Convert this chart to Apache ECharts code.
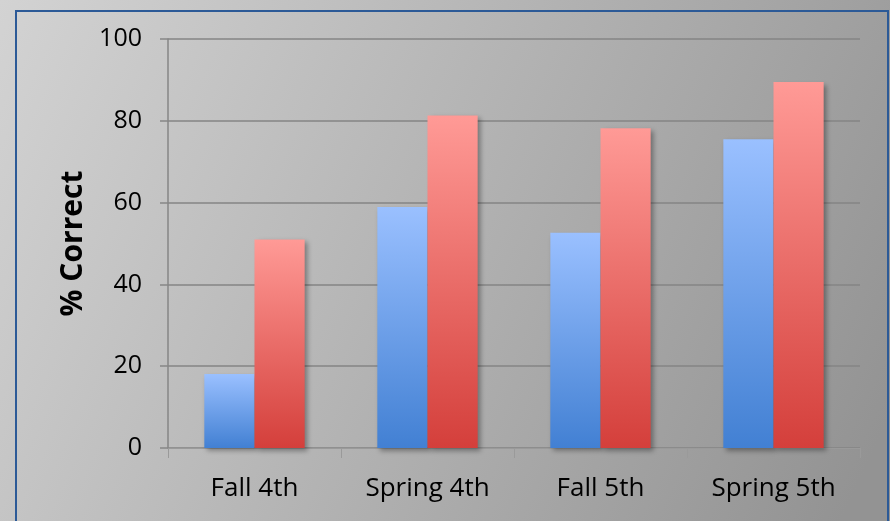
<!DOCTYPE html>
<html>
<head>
<meta charset="utf-8">
<style>
  html, body { margin: 0; padding: 0; }
  #chart { width: 890px; height: 521px; }
</style>
<script src="https://cdn.jsdelivr.net/npm/echarts@6/dist/echarts.min.js"></script>
</head>
<body>
<div id="chart"></div>
<script>
// Percent of correct answers per testing period
const categories = ['Fall 4th', 'Spring 4th', 'Fall 5th', 'Spring 5th'];
const seriesA = [18.1, 58.9, 52.6, 75.5];
const seriesB = [51.0, 81.3, 78.2, 89.5];
const yTicks = [0, 20, 40, 60, 80, 100];

const FONT = '"Open Sans", "Liberation Sans", sans-serif';

function vGrad(top, bottom) {
  return new echarts.graphic.LinearGradient(0, 0, 0, 1, [
    { offset: 0, color: top },
    { offset: 1, color: bottom }
  ]);
}

const barShadow = {
  shadowBlur: 5,
  shadowOffsetX: 3,
  shadowOffsetY: 3,
  shadowColor: 'rgba(0,0,0,0.35)'
};

const chart = echarts.init(document.getElementById('chart'), null, { renderer: 'canvas' });

chart.setOption({
  animation: false,
  backgroundColor: new echarts.graphic.LinearGradient(0, 0, 1, 0.8, [
    { offset: 0, color: '#d3d3d3' },
    { offset: 1, color: '#939393' }
  ]),
  graphic: [
    {
      type: 'rect',
      z: -1,
      shape: { x: 16, y: 11, width: 872, height: 520 },
      style: { fill: 'none', stroke: '#2c5a97', lineWidth: 2 }
    }
  ],
  grid: { left: 168, right: 30, top: 39, bottom: 73 },
  xAxis: {
    type: 'category',
    data: categories,
    axisLine: { show: true, lineStyle: { color: '#9a9a9a', width: 1 } },
    axisTick: { show: true, length: 10, alignWithLabel: false, lineStyle: { color: '#9a9a9a' } },
    axisLabel: { color: '#000', fontFamily: FONT, fontSize: 26, margin: 28 }
  },
  yAxis: {
    type: 'value',
    min: yTicks[0],
    max: yTicks[yTicks.length - 1],
    interval: 20,
    name: '% Correct',
    nameLocation: 'middle',
    nameGap: 80,
    nameRotate: 90,
    nameTextStyle: { color: '#000', fontFamily: FONT, fontSize: 30, fontWeight: 'bold' },
    axisLine: { show: true, lineStyle: { color: '#868686', width: 1.5 } },
    axisTick: { show: true, inside: false, length: 8, lineStyle: { color: '#868686', width: 1.5 } },
    axisLabel: { color: '#000', fontFamily: FONT, fontSize: 25, margin: 26 },
    splitLine: { show: true, lineStyle: { color: '#848484', width: 1.5 } }
  },
  series: [
    {
      name: 'A',
      type: 'bar',
      data: seriesA,
      barGap: '0%',
      barCategoryGap: '42%',
      itemStyle: Object.assign({ color: vGrad('#9ac0ff', '#4280d3') }, barShadow)
    },
    {
      name: 'B',
      type: 'bar',
      data: seriesB,
      barGap: '0%',
      barCategoryGap: '42%',
      itemStyle: Object.assign({ color: vGrad('#ff9a96', '#d43f3b') }, barShadow)
    }
  ]
});
</script>
</body>
</html>
